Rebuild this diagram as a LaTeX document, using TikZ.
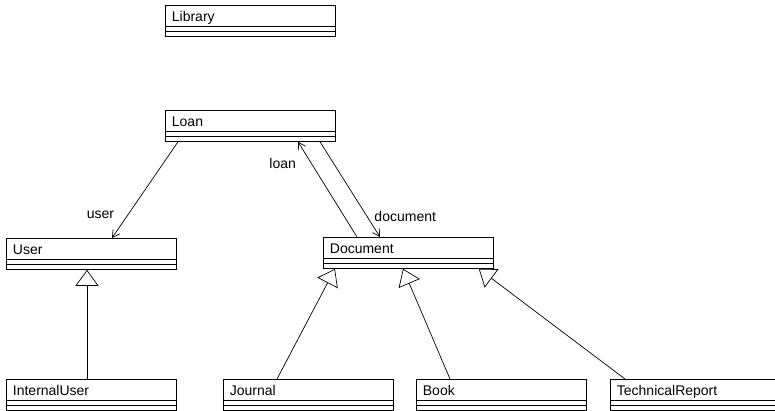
\documentclass[tikz,border=0pt]{standalone}
\usepackage{fontspec}
\setmainfont{Liberation Sans}
\usetikzlibrary{arrows.meta,positioning,calc}

\begin{document}
\begin{tikzpicture}[x=1pt,y=-1pt,
  font=\fontsize{14}{16}\selectfont,
  cls/.style={draw,line width=0.8pt,anchor=north west,
    text width=157pt,align=left,inner xsep=6.5pt,inner ysep=0pt,
    text height=16pt,text depth=15pt,
    path picture={
      \draw[line width=0.8pt] ([yshift=10pt]path picture bounding box.south west) -- ([yshift=10pt]path picture bounding box.south east);
      \draw[line width=0.8pt] ([yshift=5pt]path picture bounding box.south west) -- ([yshift=5pt]path picture bounding box.south east);}},
  assoc/.style={line width=0.7pt,-{Straight Barb[length=7pt,width=8pt]}},
  gen/.style={line width=0.7pt,-{Triangle[open,length=16pt,width=23pt]}}]
\useasboundingbox (0,0) rectangle (775,411);

% Classes
\node[cls] (library) at (165,5) {Library};
\node[cls] (loan) at (165,110) {Loan};
\node[cls] (user) at (6,238) {User};
\node[cls] (document) at (323,237) {Document};
\node[cls] (internaluser) at (6,379) {InternalUser};
\node[cls] (journal) at (223,379) {Journal};
\node[cls] (book) at (416,379) {Book};
\node[cls] (techreport) at (610,379) {TechnicalReport};

% Associations
\draw[assoc] ([xshift=13pt]loan.south west) -- ([xshift=106pt]user.north west) node[pos=0.76,left=10pt] {user};
\draw[assoc] ([xshift=34pt]document.north west) -- ([xshift=133pt]loan.south west) node[pos=0.77,left=12pt] {loan};
\draw[assoc] ([xshift=155pt]loan.south west) -- ([xshift=57pt]document.north west) node[pos=0.78,right=4pt] {document};

% Generalizations
\draw[gen] ([xshift=81pt]internaluser.north west) -- ([xshift=81pt]user.south west);
\draw[gen] ([xshift=54pt]journal.north west) -- ([xshift=12pt]document.south west);
\draw[gen] ([xshift=34pt]book.north west) -- ([xshift=80pt]document.south west);
\draw[gen] ([xshift=15pt]techreport.north west) -- ([xshift=-15pt]document.south east);
\end{tikzpicture}
\end{document}
